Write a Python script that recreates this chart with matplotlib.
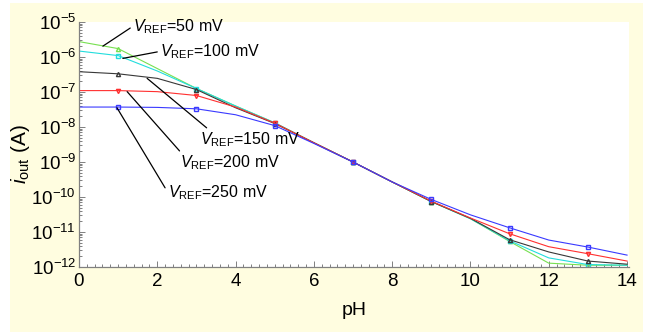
import matplotlib
matplotlib.use('Agg')
import matplotlib.pyplot as plt
from matplotlib.patches import Rectangle
from matplotlib.ticker import MultipleLocator, LogLocator, NullFormatter
import numpy as np

plt.rcParams['font.family'] = ['Liberation Sans', 'DejaVu Sans']
plt.rcParams['mathtext.fontset'] = 'custom'
plt.rcParams['mathtext.rm'] = 'Liberation Sans'
plt.rcParams['mathtext.it'] = 'Liberation Sans:italic'
plt.rcParams['mathtext.default'] = 'regular'

# pH values for the curves and for the markers
ph = [0, 1, 2, 3, 4, 5, 6, 7, 8, 9, 10, 11, 12, 13, 14]
ph_marks = [1, 3, 5, 7, 9, 11, 13]

# log10 of output current (A)
log_50 = [-5.56, -5.76, -6.33, -6.90, -7.40, -7.88, -8.45, -9.0, -9.57, -10.13, -10.62, -11.27, -11.89, -11.95, -11.95]
log_100 = [-5.83, -5.96, -6.40, -6.90, -7.40, -7.88, -8.45, -9.0, -9.57, -10.13, -10.62, -11.25, -11.74, -11.93, -11.95]
log_150 = [-6.42, -6.48, -6.61, -6.93, -7.45, -7.90, -8.45, -9.0, -9.57, -10.13, -10.61, -11.22, -11.57, -11.83, -11.92]
log_200 = [-6.96, -6.96, -6.99, -7.10, -7.43, -7.89, -8.45, -9.0, -9.57, -10.12, -10.60, -11.05, -11.42, -11.62, -11.83]
log_250 = [-7.43, -7.43, -7.44, -7.48, -7.65, -7.96, -8.47, -9.0, -9.57, -10.07, -10.51, -10.88, -11.23, -11.43, -11.66]

series = [
    (log_50, '#77e050', '^'),
    (log_100, '#22dddd', 's'),
    (log_150, '#383838', '^'),
    (log_200, '#ff3030', 'v'),
    (log_250, '#3a3aff', 's'),
]

fig = plt.figure(figsize=(6.49, 3.34), dpi=100)
fig.patch.set_facecolor('white')
# pale yellow panel behind the axes
fig.add_artist(Rectangle((10 / 649, 1 - 332 / 334), 633 / 649, 329 / 334,
                         transform=fig.transFigure, facecolor='#fffde0',
                         edgecolor='none', zorder=-5))

ax = fig.add_axes([79 / 649, 1 - 267 / 334, 550 / 649, 245 / 334])
ax.set_facecolor('white')
ax.set_zorder(2)

for logs, color, marker in series:
    vals = [10 ** v for v in logs]
    ax.plot(ph, vals, '-', color=color, lw=0.8)
    mvals = [vals[ph.index(p)] for p in ph_marks]
    ax.plot(ph_marks, mvals, linestyle='none', marker=marker, ms=3,
            mfc='none', mec=color, mew=1.0)

ax.set_yscale('log')
ax.set_xlim(0, 14.05)
ax.set_ylim(1e-12, 1e-5)

for s in ['top', 'right']:
    ax.spines[s].set_visible(False)
for s in ['left', 'bottom']:
    ax.spines[s].set_color('#808080')
    ax.spines[s].set_linewidth(0.9)

ax.xaxis.set_major_locator(MultipleLocator(2))
ax.xaxis.set_minor_locator(MultipleLocator(0.2))
ax.yaxis.set_minor_locator(LogLocator(base=10, subs=np.arange(2, 10), numticks=20))
ax.yaxis.set_minor_formatter(NullFormatter())
yt = [10.0 ** e for e in range(-12, -4)]
ax.set_yticks(yt)
ax.set_yticklabels(['10$^{%d}$' % e for e in range(-12, -4)])
ax.tick_params(axis='both', which='both', direction='in', color='#808080',
               labelsize=13.5, width=0.7)
ax.tick_params(axis='both', which='major', length=4)
ax.tick_params(axis='both', which='minor', length=2.5)
ax.tick_params(axis='x', pad=4)
ax.tick_params(axis='y', pad=2)

ax.set_xlabel('pH', fontsize=14, labelpad=9)
ax.set_ylabel('$\\mathit{i}_{\\mathrm{out}}$ (A)', fontsize=15)
ax.yaxis.set_label_coords(-0.085, 0.46)

# annotations: (label, text position, curve point, relpos)
notes = [
    ('50', (1.38, -5.12), (0.61, -5.69), (0.0, 0.5)),
    ('100', (2.07, -5.84), (1.12, -6.04), (0.0, 0.5)),
    ('150', (3.09, -8.37), (1.74, -6.61), (0.1, 1.0)),
    ('200', (2.58, -9.03), (1.23, -6.99), (0.02, 1.0)),
    ('250', (2.27, -9.87), (0.97, -7.45), (0.0, 0.5)),
]
for mv, (tx, ty), (px, py), rp in notes:
    ax.annotate('$\\mathit{V}_{\\mathrm{REF}}$=%s mV' % mv, xy=(px, 10 ** py),
                xytext=(tx, 10 ** ty), fontsize=11.5, ha='left', va='center',
                arrowprops=dict(arrowstyle='-', color='black', lw=0.9,
                                shrinkA=0, shrinkB=0, relpos=rp))

fig.savefig('out.png', dpi=100)
